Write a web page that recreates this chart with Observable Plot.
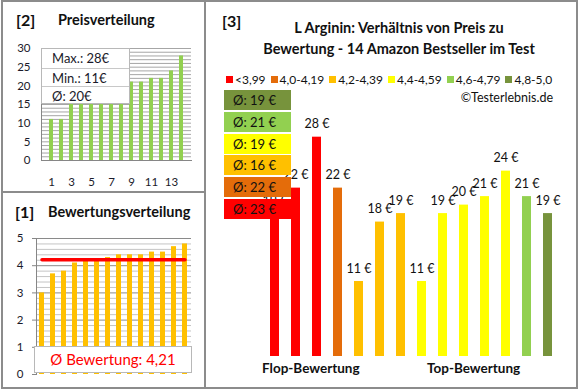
<!DOCTYPE html>
<html><head><meta charset="utf-8">
<script src="https://cdn.jsdelivr.net/npm/d3@7"></script>
<script src="https://cdn.jsdelivr.net/npm/@observablehq/plot@0.6"></script>
<style>
body{margin:0;background:#fff;font-family:Lato,"Open Sans",sans-serif;color:#111;}
#root{position:relative;width:580px;height:390px;overflow:hidden;background:#fff;}
#root svg{position:absolute;left:0;top:0;}
.t{position:absolute;white-space:nowrap;line-height:1;}
.b{font-weight:bold;}
</style></head><body><div id="root"></div>
<script>
// ---- data ----
const priceRanks = [1,2,3,4,5,6,7,8,9,10,11,12,13,14];
const pricesSorted = [11,11,18,19,19,19,19,20,21,21,22,22,24,28];
const priceXTicks = [1,3,5,7,9,11,13];
const priceYTicks = [0,5,10,15,20,25,30];

const ratingRanks = [1,2,3,4,5,6,7,8,9,10,11,12,13,14];
const ratingsSorted = [3.0,3.7,3.8,4.1,4.2,4.2,4.3,4.4,4.4,4.4,4.5,4.5,4.7,4.8];
const ratingYTicks = [0,1,2,3,4,5];

const products = ["P1","P2","P3","P4","P5","P6","P7","P8","P9","P10","P11","P12","P13","P14"];
const productPrices = [19,22,28,22,11,18,19,11,19,20,21,24,21,19];
const productRatings = [3.0,3.7,3.8,4.1,4.2,4.2,4.3,4.4,4.4,4.4,4.5,4.5,4.7,4.8];

const classLabels = ["<3,99","4,0-4,19","4,2-4,39","4,4-4,59","4,6-4,79","4,8-5,0"];
const classLower = [0,4.0,4.2,4.4,4.6,4.8];
const classColors = ["#FF0000","#E46C0A","#FFC000","#FFFF00","#92D050","#77933C"];

const titleText = ["L Arginin: Verhältnis von Preis zu","Bewertung - 14 Amazon Bestseller im Test"];

// ---- helpers ----
const root = document.getElementById("root");
function add(tag, css, text, cls){
  const el = document.createElement(tag);
  if (cls) el.className = cls;
  Object.assign(el.style, {position:"absolute"}, css);
  if (text != null) el.textContent = text;
  root.appendChild(el); return el;
}
const classOf = r => { let k = 0; classLower.forEach((l,i)=>{ if (r >= l) k = i; }); return k; };

// ---- [2] Preisverteilung ----
root.appendChild(Plot.plot({
  width:580, height:390,
  marginLeft:41, marginRight:389, marginTop:48, marginBottom:230,
  style:{background:"transparent", fontFamily:"Lato", fontSize:"11.5px", color:"#1a1a2a", overflow:"visible"},
  x:{type:"band", domain:priceRanks, paddingInner:0.62, paddingOuter:0.31, axis:null},
  y:{domain:[0,30], axis:null},
  marks:[
    Plot.gridY(d3.range(1,31), {stroke:"#a6a6a6", strokeOpacity:1}),
    Plot.barY(pricesSorted, {x:(d,i)=>priceRanks[i], y:d=>d, fill:"#92D050"}),
    Plot.axisY(priceYTicks, {tickSize:0, tickPadding:11}),
    Plot.axisX(priceXTicks, {tickSize:0, tickPadding:17}),
    Plot.frame({anchor:"left", stroke:"#868686"}),
    Plot.frame({anchor:"bottom", stroke:"#868686"})
  ]
}));

// ---- [1] Bewertungsverteilung ----
const ratingMean = d3.mean(ratingsSorted);
const minor = d3.range(1,26).filter(k=>k%5!==0).map(k=>k/5);
root.appendChild(Plot.plot({
  width:580, height:390,
  marginLeft:36, marginRight:389, marginTop:238, marginBottom:16,
  style:{background:"transparent", fontFamily:"Lato", fontSize:"11.5px", color:"#1a1a2a", overflow:"visible"},
  x:{type:"band", domain:ratingRanks, range:[34.6,190.7], paddingInner:0.55, paddingOuter:0.275, axis:null},
  y:{domain:[0,5], axis:null},
  marks:[
    Plot.gridY(minor, {stroke:"#c4c4c4", strokeOpacity:1}),
    Plot.gridY([1,2,3,4,5], {stroke:"#8a8a8a", strokeOpacity:1}),
    Plot.barY(ratingsSorted, {x:(d,i)=>ratingRanks[i], y:d=>d, fill:"#FFC000"}),
    Plot.lineY([ratingRanks[0], ratingRanks[ratingRanks.length-1]], {x:d=>d, y:()=>ratingMean, stroke:"#FF0000", strokeWidth:3.5}),
    Plot.axisY(ratingYTicks, {tickSize:4, tickPadding:9, stroke:"#868686"}),
    Plot.frame({anchor:"left", stroke:"#868686"})
  ]
}));

// ---- [3] main chart ----
const productColors = productRatings.map(r=>classColors[classOf(r)]);
root.appendChild(Plot.plot({
  width:580, height:390,
  marginLeft:205, marginRight:3, marginTop:100, marginBottom:34,
  style:{background:"transparent", fontFamily:"Lato", fontSize:"12.5px", color:"#111", overflow:"visible"},
  x:{type:"band", domain:products, range:[264,558], paddingInner:0.57, paddingOuter:0.285, axis:null},
  y:{domain:[0,30], range:[374.4,119.7], axis:null},
  color:{type:"identity"},
  marks:[
    Plot.barY(products, {x:d=>d, y:(d,i)=>productPrices[i], fill:(d,i)=>productColors[i], clip:true}),
    Plot.text(products, {x:d=>d, y:(d,i)=>productPrices[i], text:(d,i)=>`${productPrices[i]} €`, dy:-13, fill:"#111"})
  ]
}));

// ---- overlays: price stats box ----
const pMax = d3.max(pricesSorted), pMin = d3.min(pricesSorted), pAvg = Math.round(d3.mean(pricesSorted));
const statRows = [`Max.: ${pMax}€`, `Min.: ${pMin}€`, `Ø: ${pAvg}€`];
const sb = add("div", {left:"41px", top:"48px", width:"89px", height:"56px", background:"#fff", border:"1px solid #b8b8b8", boxSizing:"border-box"});
statRows.forEach((s,i)=>{
  const r = document.createElement("div");
  Object.assign(r.style, {position:"absolute", left:"0", top:(i*18.5)+"px", width:"100%", height:"18.5px", borderTop: i? "1px solid #c8c8c8":"none", boxSizing:"border-box", fontSize:"13px", paddingLeft:"10px", lineHeight:"18px", color:"#1a1a2a"});
  r.textContent = s; sb.appendChild(r);
});

// rating box
add("div", {left:"34px", top:"346px", width:"158px", height:"27px", background:"#fff", border:"1px solid #b8b8b8", boxSizing:"border-box", color:"#FF0000", fontSize:"15px", textAlign:"center", lineHeight:"25px"}, `Ø Bewertung: ${ratingMean.toFixed(2).replace(".", ",")}`);

// titles
add("div", {left:"16px", top:"12px", fontSize:"16px"}, "[2]", "t b");
add("div", {left:"58px", top:"13px", fontSize:"14.5px"}, "Preisverteilung", "t b");
add("div", {left:"15px", top:"204px", fontSize:"16px"}, "[1]", "t b");
add("div", {left:"48px", top:"205px", fontSize:"14.5px"}, "Bewertungsverteilung", "t b");
add("div", {left:"222px", top:"13px", fontSize:"16px"}, "[3]", "t b");
add("div", {left:"220px", width:"358px", top:"18px", fontSize:"14.5px", textAlign:"center", lineHeight:"20.5px", whiteSpace:"nowrap"}, null, "b").innerHTML = titleText.join("<br>");

// legend
const lg = add("div", {left:"226px", top:"72px", display:"flex", alignItems:"center", gap:"5px", fontSize:"12px", whiteSpace:"nowrap"});
classLabels.forEach((l,i)=>{
  const it = document.createElement("div");
  it.style.display = "flex"; it.style.alignItems = "center"; it.style.gap = "2px";
  const sq = document.createElement("span");
  Object.assign(sq.style, {display:"inline-block", width:"7px", height:"7px", background:classColors[i]});
  const tx = document.createElement("span"); tx.textContent = l;
  it.appendChild(sq); it.appendChild(tx); lg.appendChild(it);
});
add("div", {right:"27px", top:"92px", fontSize:"12.5px"}, "©Testerlebnis.de", "t");

// group average boxes (top: highest class)
const groups = classColors.map((c,k)=>{
  const vals = productPrices.filter((p,i)=>classOf(productRatings[i])===k);
  return {c, avg: vals.length ? Math.round(d3.mean(vals)) : null};
}).filter(g=>g.avg!=null).reverse();
groups.forEach((g,i)=>{
  add("div", {left:"224px", top:(90+i*21.8)+"px", width:"67px", height:"20px", background:g.c, fontSize:"13px", lineHeight:"20px", paddingLeft:"9px", boxSizing:"border-box", color:"#111"}, `Ø: ${g.avg} €`);
});

// category captions
add("div", {left:"262px", top:"362px", fontSize:"13.5px"}, "Flop-Bewertung", "t b");
add("div", {left:"427px", top:"362px", fontSize:"13.5px"}, "Top-Bewertung", "t b");

// frame lines
add("div", {left:"1px", top:"0px", width:"577px", height:"389px", border:"2px solid #8c8c8c", boxSizing:"border-box"});
add("div", {left:"204px", top:"0px", width:"2px", height:"389px", background:"#8c8c8c"});
add("div", {left:"1px", top:"191px", width:"204px", height:"2px", background:"#8c8c8c"});
</script></body></html>
